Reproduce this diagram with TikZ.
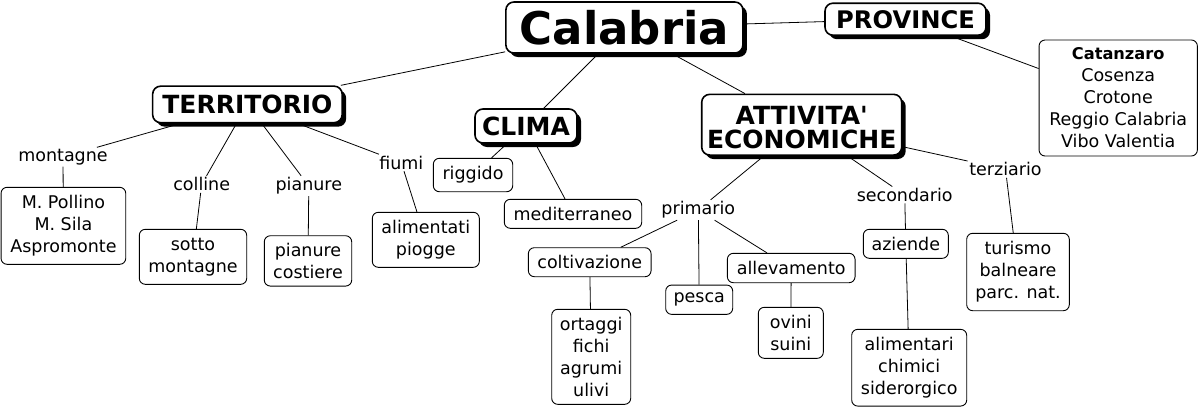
\documentclass[tikz,border=0pt]{standalone}
\usepackage{fontspec}
\setmainfont{DejaVu Sans}
\newfontfamily\plainfont{DejaVu Sans}
\usetikzlibrary{shadows}
\begin{document}
\begin{tikzpicture}[x=1pt,y=-1pt,
  conn/.style={line width=0.8pt, draw=black},
  sz/.style 2 args={minimum width=#1pt, minimum height=#2pt},
  bx/.style={draw, line width=0.9pt, rounded corners=6pt, fill=white, inner sep=0pt, align=center, font=\fontsize{17.5}{22}\selectfont},
  hd/.style={draw, line width=1.6pt, rounded corners=8pt, fill=white, inner sep=0pt, align=center, font=\fontsize{25}{25}\selectfont\bfseries, drop shadow={shadow xshift=4pt, shadow yshift=-4pt, fill=black, opacity=1}},
  hdtext/.style={inner sep=0pt, align=center, font=\plainfont\fontsize{25}{24.5}\selectfont\bfseries},
  lb/.style={inner sep=1.5pt, font=\fontsize{17.5}{22}\selectfont},
]
\useasboundingbox[fill=white] (0,0) rectangle (1199,408);

% heading nodes
\node[hd, sz={237}{51}, font=\fontsize{45}{50}\selectfont\bfseries] (cal) at (624.4,27.5) {Calabria};
\node[hd, sz={161}{32}, font=\fontsize{24.2}{25}\selectfont\bfseries] (prov) at (905.5,19.2) {PROVINCE};
\node[hd, sz={189.5}{36.5}] (terr) at (247.4,104.4) {TERRITORIO};
\node[hd, sz={102}{34}] (clima) at (526,126) {CLIMA};
\node[hd, sz={200}{60.7}] (att) at (801.7,124.7) {};
\node[hdtext] (atttext) at (801.7,127.5) {ATTIVITA'\\ECONOMICHE};

% list of provinces
\node[bx, sz={158.3}{116}] (list) at (1118.2,98) {{\fontsize{16.2}{22}\selectfont\bfseries Catanzaro}\\Cosenza\\Crotone\\Reggio Calabria\\Vibo Valentia};

% territorio
\node[lb] (mont) at (63,157) {montagne};
\node[lb] (coll) at (201.7,184.3) {colline};
\node[lb] (pian) at (308.8,186) {pianure};
\node[lb] (fium) at (401.3,162.7) {fiumi};
\node[bx, sz={124.7}{77}] (poll) at (63.4,225.8) {M. Pollino\\M. Sila\\Aspromonte};
\node[bx, sz={107.4}{55}] (sotto) at (193,256.8) {sotto\\montagne};
\node[bx, sz={87.4}{50.3}] (cost) at (308,260.9) {pianure\\costiere};
\node[bx, sz={107}{55}] (alim) at (425.8,239.8) {alimentati\\piogge};

% clima
\node[bx, sz={79.4}{33.4}] (rigg) at (473,175) {riggido};
\node[bx, sz={137.4}{29}] (medit) at (573,213.8) {mediterraneo};

% attivita
\node[lb] (prim) at (698.3,210) {primario};
\node[lb] (sec) at (904.7,195) {secondario};
\node[lb] (terz) at (1005.5,169.3) {terziario};
\node[bx, sz={122.7}{29}] (colt) at (589.7,262.2) {coltivazione};
\node[bx, sz={67}{29.3}] (pesca) at (699.2,299.7) {pesca};
\node[bx, sz={127.7}{29.4}] (allev) at (791.2,268) {allevamento};
\node[bx, sz={79}{95}] (ortag) at (591.2,356.8) {ortaggi\\fichi\\agrumi\\ulivi};
\node[bx, sz={65}{51}] (ovini) at (790.8,332.8) {ovini\\suini};
\node[bx, sz={85}{29}] (azien) at (905.8,243.8) {aziende};
\node[bx, sz={115}{76.7}] (alimt) at (909.2,367.7) {alimentari\\chimici\\siderorgico};
\node[bx, sz={102.6}{77.4}] (tur) at (1018,272) {turismo\\balneare\\parc. nat.};

% connectors
\draw[conn] (cal) -- (terr);
\draw[conn] (cal) -- (clima);
\draw[conn] (cal) -- (att);
\draw[conn] (cal) -- (prov);
\draw[conn] (prov) -- (list);
\draw[conn] (terr) -- (mont);
\draw[conn] (mont) -- (poll);
\draw[conn] (terr) -- (coll);
\draw[conn] (coll) -- (sotto);
\draw[conn] (terr) -- (pian);
\draw[conn] (pian) -- (cost);
\draw[conn] (terr) -- (fium);
\draw[conn] (fium) -- (alim);
\draw[conn] (clima) -- (rigg);
\draw[conn] (clima) -- (medit);
\draw[conn] (att) -- (prim);
\draw[conn] (att) -- (sec);
\draw[conn] (att) -- (terz);
\draw[conn] (prim) -- (colt);
\draw[conn] (prim) -- (pesca);
\draw[conn] (prim) -- (allev);
\draw[conn] (colt) -- (ortag);
\draw[conn] (allev) -- (ovini);
\draw[conn] (sec) -- (azien);
\draw[conn] (azien) -- (alimt);
\draw[conn] (terz) -- (tur);
\end{tikzpicture}
\end{document}
